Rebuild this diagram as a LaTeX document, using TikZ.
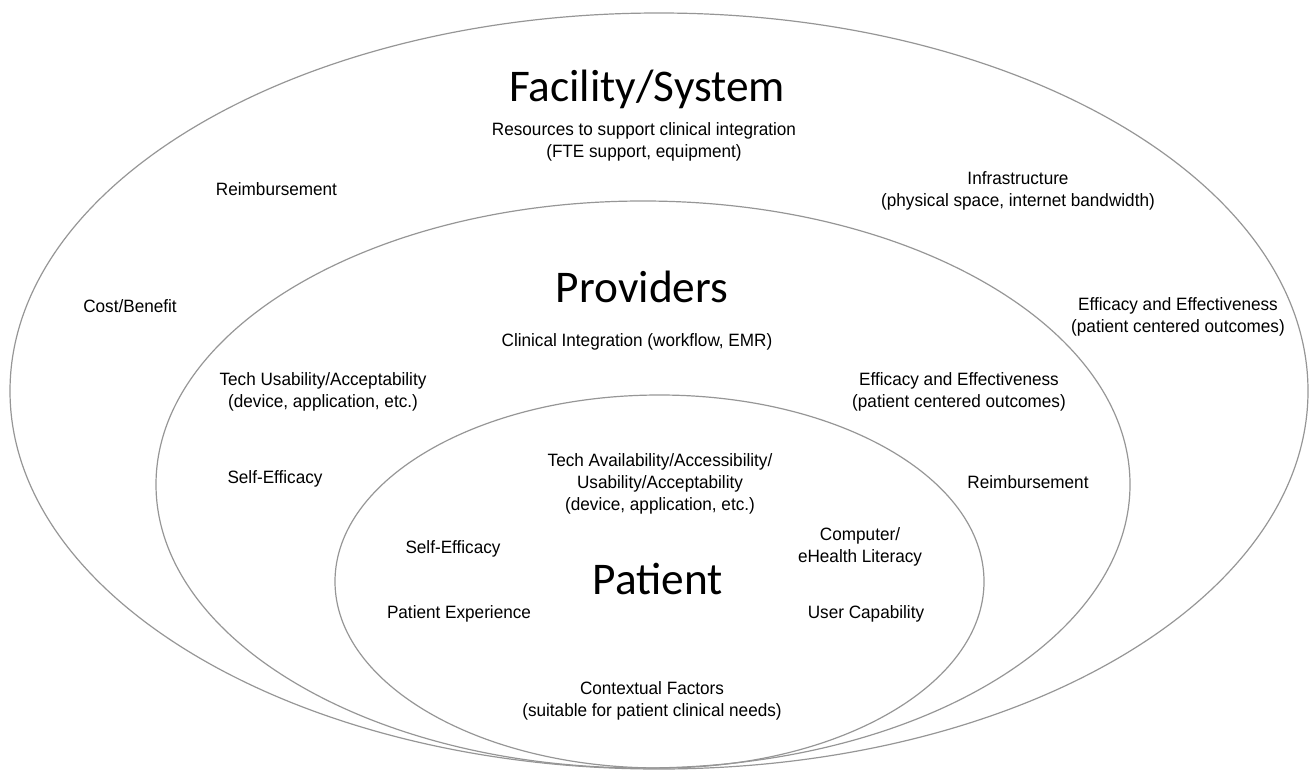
\documentclass[tikz,border=0pt]{standalone}
\usepackage{fontspec}
\setmainfont[FakeStretch=0.96]{Liberation Sans}
\newfontfamily\titlefont{Carlito}
\begin{document}
\begin{tikzpicture}[x=0.75pt,y=-0.75pt,
  ring/.style={draw={rgb,255:red,150;green,150;blue,150}, line width=0.9pt},
  label/.style={inner sep=0pt, align=center, font=\fontsize{13.4pt}{16.7pt}\selectfont},
  heading/.style={inner sep=0pt, anchor=base, font=\titlefont\fontsize{34pt}{40pt}\selectfont}]
\useasboundingbox (0,0) rectangle (1312,771);

% nested levels: facility, providers, patient
\draw[ring] (659,391) ellipse [x radius=649, y radius=378];
\draw[ring] (643,484.5) ellipse [x radius=487, y radius=283.5];
\draw[ring] (659.5,581.5) ellipse [x radius=324.5, y radius=186.5];

% facility / system level
\node[heading] (fac) at (647,101) {Facility/System};
\node[label] (res) at (644,142) {Resources to support clinical integration\\(FTE support, equipment)};
\node[label] (reimbA) at (276.5,189) {Reimbursement};
\node[label] (cost) at (130,306) {Cost/Benefit};
\node[label] (infra) at (1018,191) {Infrastructure\\(physical space, internet bandwidth)};
\node[label] (effA) at (1178,317) {Efficacy and Effectiveness\\(patient centered outcomes)};

% provider level
\node[heading] (prov) at (642,302) {Providers};
\node[label] (clin) at (637,342) {Clinical Integration (workflow, EMR)};
\node[label] (usab) at (323,392) {Tech Usability/Acceptability\\(device, application, etc.)};
\node[label] (selfA) at (275,479) {Self-Efficacy};
\node[label] (effB) at (959,392) {Efficacy and Effectiveness\\(patient centered outcomes)};
\node[label] (reimbB) at (1028,482) {Reimbursement};

% patient level
\node[heading] (pat) at (658,594) {Patient};
\node[label] (avail) at (660,484) {Tech Availability/Accessibility/\\Usability/Acceptability\\(device, application, etc.)};
\node[label] (selfB) at (453,549) {Self-Efficacy};
\node[label] (exp) at (459,614) {Patient Experience};
\node[label] (lit) at (860,547) {Computer/\\eHealth Literacy};
\node[label] (cap) at (866,614) {User Capability};
\node[label] (ctx) at (652,701) {Contextual Factors\\(suitable for patient clinical needs)};
\end{tikzpicture}
\end{document}
